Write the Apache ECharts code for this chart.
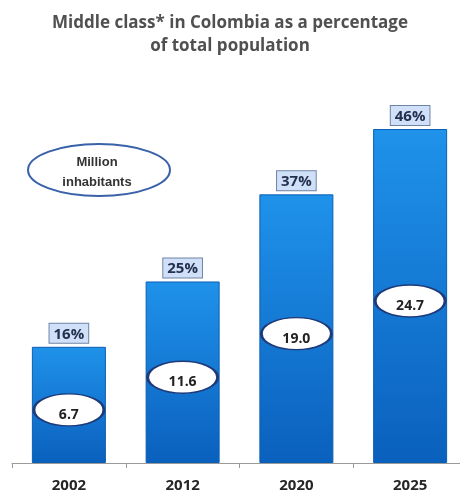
<!DOCTYPE html>
<html>
<head>
<meta charset="utf-8">
<script src="https://cdn.jsdelivr.net/npm/echarts@6/dist/echarts.min.js"></script>
<style>
  html, body { margin: 0; padding: 0; background: #fff; }
  #chart { width: 460px; height: 498px; }
</style>
</head>
<body>
<div id="chart"></div>
<script>
// values
const years = ["2002", "2012", "2020", "2025"];
const sharePct = [16, 25, 37, 46];          // % of total population (bar height)
const millions = ["6.7", "11.6", "19.0", "24.7"]; // million inhabitants

const chart = echarts.init(document.getElementById("chart"));

// ellipse drawn with bezier curves
const ellipsePath = "path://M0,17 C0,7.6 14.3,0 32,0 C49.7,0 64,7.6 64,17 C64,26.4 49.7,34 32,34 C14.3,34 0,26.4 0,17 Z";

chart.setOption({
  animation: false,
  title: {
    text: "Middle class* in Colombia as a percentage\nof total population",
    left: "center",
    top: 7,
    textStyle: {
      color: "#505050",
      fontFamily: "Open Sans",
      fontWeight: "bold",
      fontSize: 17,
      lineHeight: 23
    }
  },
  grid: {
    left: 12,
    width: 455,
    top: 129,
    bottom: 35,
    outerBoundsMode: "none"
  },
  xAxis: {
    type: "category",
    data: years,
    axisLine: { lineStyle: { color: "#9a9a9a", width: 1 } },
    axisTick: { show: true, alignWithLabel: false, length: 5, lineStyle: { color: "#9a9a9a" } },
    axisLabel: {
      color: "#262626",
      fontFamily: "Open Sans",
      fontWeight: "bold",
      fontSize: 15,
      margin: 15
    }
  },
  yAxis: {
    type: "value",
    min: 0,
    max: 46,
    show: false,
    splitLine: { show: false }
  },
  graphic: [
    {
      type: "ellipse",
      shape: { cx: 99, cy: 170, rx: 71, ry: 26 },
      style: { fill: "#ffffff", stroke: "#3a62a8", lineWidth: 2 }
    },
    {
      type: "text",
      x: 97,
      y: 172,
      style: {
        text: "Million\ninhabitants",
        fill: "#333",
        font: "bold 13px 'Liberation Sans'",
        align: "center",
        verticalAlign: "middle",
        lineHeight: 20
      }
    }
  ],
  series: [
    {
      type: "bar",
      data: sharePct,
      barWidth: 74,
      itemStyle: {
        color: new echarts.graphic.LinearGradient(0, 0, 0, 1, [
          { offset: 0, color: "#1f92ea" },
          { offset: 1, color: "#0a60bd" }
        ]),
        borderColor: "#0b5fb5",
        borderWidth: 1
      },
      label: {
        show: true,
        position: "top",
        distance: 4,
        formatter: "{c}%",
        color: "#25304f",
        fontFamily: "Open Sans",
        fontWeight: "bold",
        fontSize: 15,
        backgroundColor: "#cfe0f8",
        borderColor: "#6f83a6",
        borderWidth: 1,
        padding: [3, 4, 1, 4]
      },
      z: 2
    },
    {
      type: "scatter",
      data: sharePct.map((v, i) => ({ value: v / 2, name: millions[i] })),
      symbol: ellipsePath,
      symbolSize: [70, 32],
      symbolOffset: [0, 5],
      symbolKeepAspect: false,
      itemStyle: {
        color: "#ffffff",
        borderColor: "#1e3a78",
        borderWidth: 2,
        opacity: 1
      },
      label: {
        show: true,
        position: "inside",
        offset: [0, 5],
        formatter: p => p.name,
        color: "#222",
        fontFamily: "Open Sans",
        fontWeight: "bold",
        fontSize: 14
      },
      z: 3
    }
  ]
});
</script>
</body>
</html>
